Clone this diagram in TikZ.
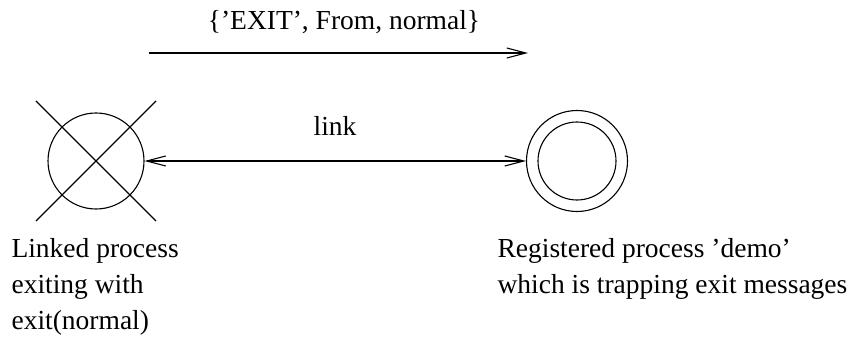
\documentclass[tikz,border=0pt]{standalone}
\usepackage{fontspec}
\setmainfont{Liberation Serif}
\usetikzlibrary{arrows.meta}

\begin{document}
\begin{tikzpicture}[x=1pt,y=-1pt,line width=1.1pt,
		txt/.style={font=\fontsize{27.5}{33}\selectfont, inner sep=0pt},
		proc/.style={draw, circle, inner sep=0pt},
		barb/.tip={Straight Barb[length=19pt,width=10pt]}]
			\useasboundingbox (0,0) rectangle (861,358);
			% exit message
			\coordinate (sendfrom) at (149,53);
			\coordinate (sendto) at (528,53);
			\draw[-barb] (sendfrom) -- (sendto);
			\node[txt, anchor=base] (exitmsg) at (344,30) {\{'EXIT', From, normal\}};
			% linked process
			\node[proc, minimum size=96pt] (linked) at (96,161) {};
			\draw (linked.center) +(-60,-60) -- +(60,60);
			\draw (linked.center) +(60,-60) -- +(-60,60);
			% registered process
			\node[proc, minimum size=101pt] (demo) at (577,161) {};
			\node[proc, minimum size=78pt] (demoin) at (demo.center) {};
			\draw[barb-barb] (linked) -- (demo);
			\node[txt, anchor=base] (linklbl) at (335,136) {link};
			% texts
			\node[txt, anchor=base west] (l1) at (11,257) {Linked process};
			\node[txt, anchor=base west] (l2) at (11,293) {exiting with};
			\node[txt, anchor=base west] (l3) at (11,329) {exit(normal)};
			\node[txt, anchor=base west] (r1) at (497,257) {Registered process 'demo'};
			\node[txt, anchor=base west] (r2) at (497,293) {which is trapping exit messages};
		\end{tikzpicture}
\end{document}
